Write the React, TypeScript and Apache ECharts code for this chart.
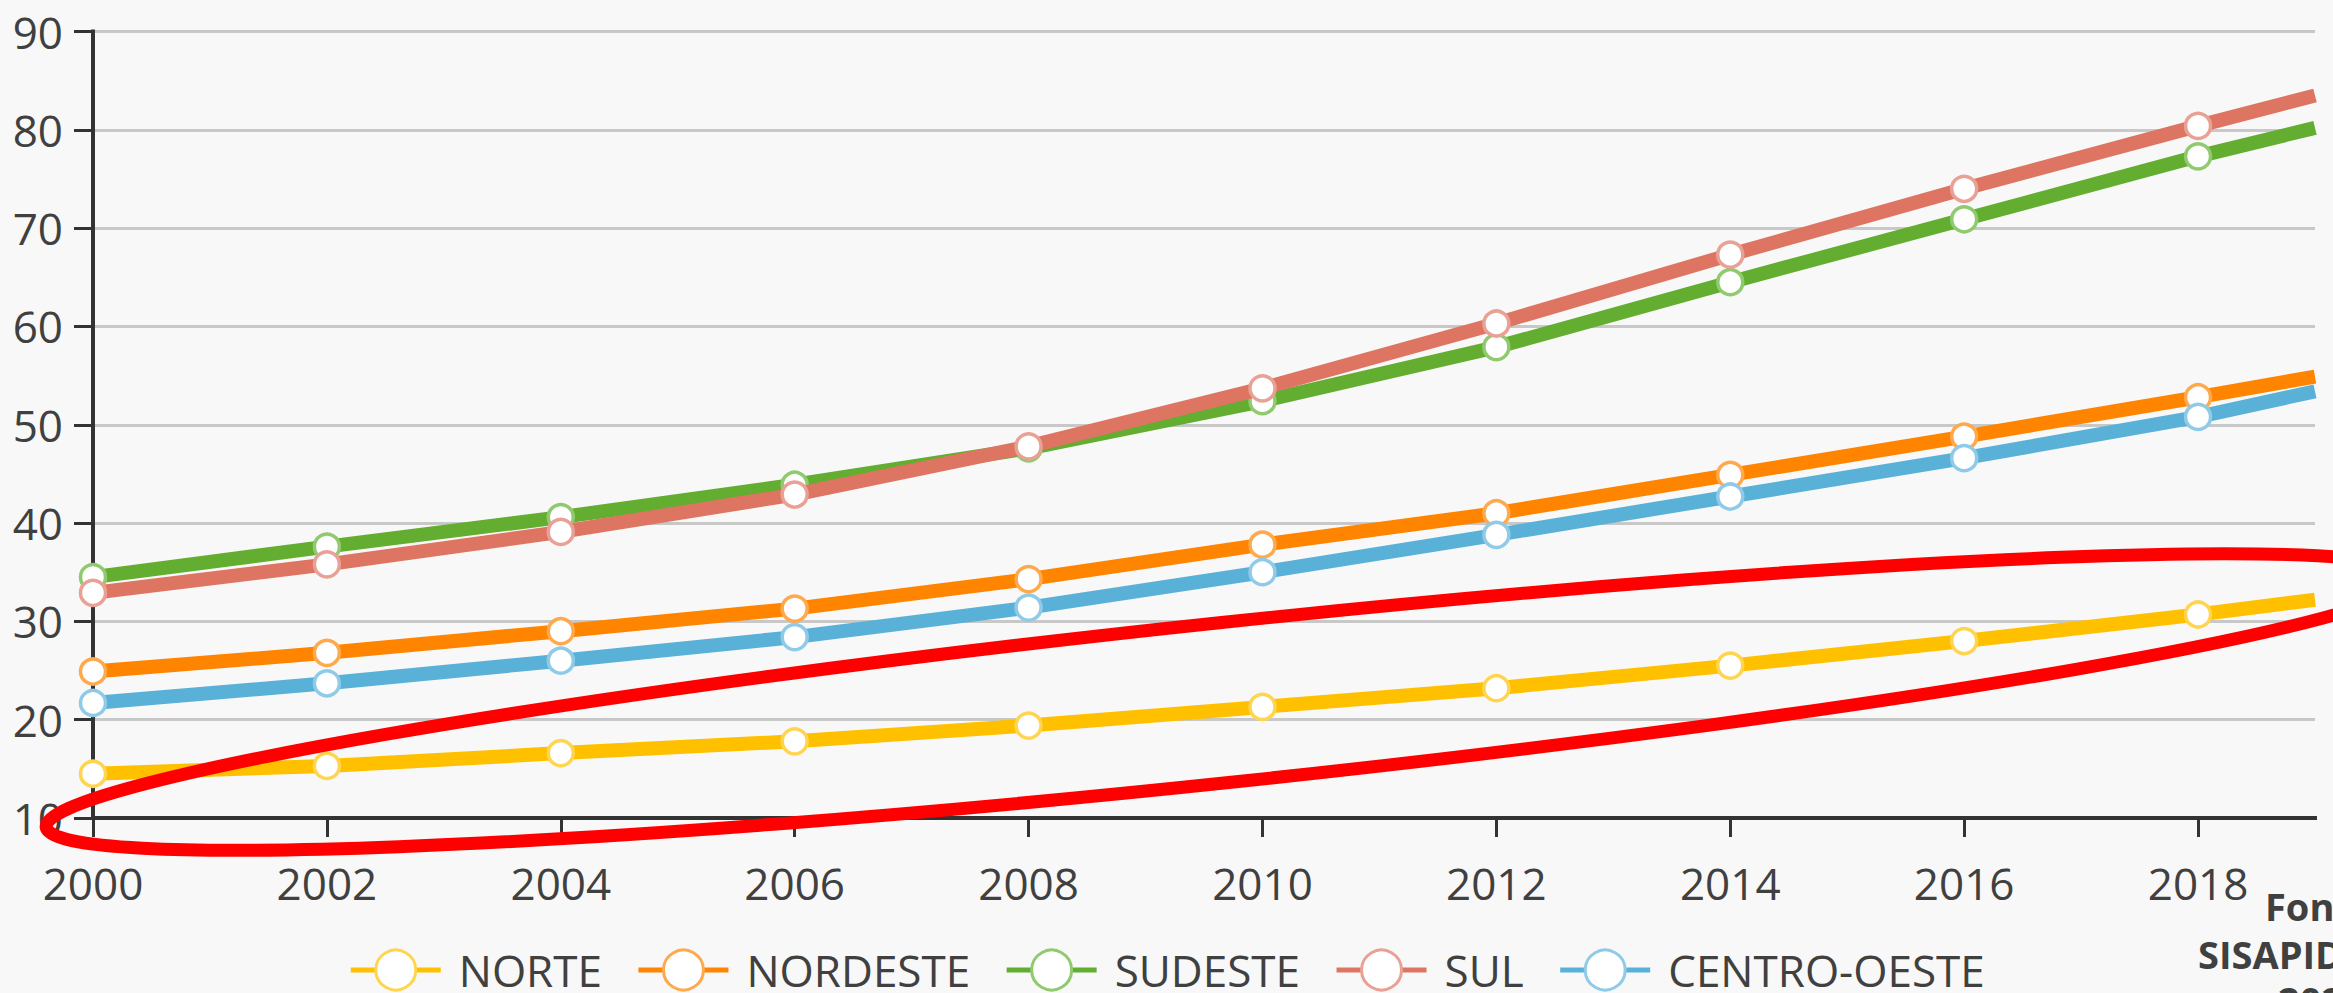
import React, { useEffect, useRef } from "react";
import * as echarts from "echarts";

const years = [2000, 2002, 2004, 2006, 2008, 2010, 2012, 2014, 2016, 2018, 2019];
const tickYears = [2000, 2002, 2004, 2006, 2008, 2010, 2012, 2014, 2016, 2018];
const seriesNames = ["NORTE", "NORDESTE", "SUDESTE", "SUL", "CENTRO-OESTE"];
const norte = [14.5, 15.3, 16.6, 17.8, 19.4, 21.3, 23.2, 25.5, 28.0, 30.7, 32.2];
const nordeste = [24.9, 26.8, 29.0, 31.3, 34.3, 37.8, 41.0, 44.9, 48.8, 52.8, 54.9];
const sudeste = [34.5, 37.6, 40.6, 43.9, 47.6, 52.4, 57.9, 64.5, 70.9, 77.3, 80.2];
const sul = [32.9, 35.8, 39.1, 42.9, 47.8, 53.7, 60.3, 67.3, 74.0, 80.4, 83.5];
const centroOeste = [21.7, 23.7, 26.0, 28.4, 31.4, 35.0, 38.8, 42.7, 46.6, 50.8, 53.4];
const sourceLines = ["Fonte:", "SISAPIDOSO", "2020"];

const lineColors = ["#FFC000", "#FF8400", "#63AD30", "#DE7562", "#5AB1D7"];
const borderColors = ["#FFD54F", "#FFA94D", "#8FCA6E", "#E9A195", "#8FCBE8"];

const FONT = "'Open Sans', 'Noto Sans', sans-serif";

export default function App() {
  const ref = useRef<HTMLDivElement>(null);
  useEffect(() => {
    if (!ref.current) return;
    const chart = echarts.init(ref.current, undefined, { renderer: "svg" });
    const allValues = [norte, nordeste, sudeste, sul, centroOeste];
    const series = seriesNames.map((name, i) => ({
      name,
      type: "line",
      z: 2 + i,
      data: years.map((y, j) => ({
        value: [y, allValues[i][j]],
        symbol: y % 2 === 0 ? "circle" : "none",
      })),
      symbol: "circle",
      symbolSize: 25,
      lineStyle: { color: lineColors[i], width: 14 },
      itemStyle: { color: "#ffffff", borderColor: borderColors[i], borderWidth: 3.5 },
      emphasis: { disabled: true },
    }));
    const option: any = {
      animation: false,
      backgroundColor: "#f8f8f8",
      grid: { left: 93, right: 18, top: 31.5, bottom: 175, outerBoundsMode: "none", containLabel: false },
      xAxis: {
        type: "value",
        min: 2000,
        max: 2019,
        interval: 2,
        axisLine: { show: true, lineStyle: { color: "#333333", width: 4, cap: "square" } },
        axisTick: { show: true, length: 19, lineStyle: { color: "#333333", width: 3 }, customValues: tickYears },
        axisLabel: {
          customValues: tickYears,
          formatter: (v: number) => String(v),
          fontSize: 44,
          fontFamily: FONT,
          color: "#404040",
          margin: 43,
        },
        splitLine: { show: false },
      },
      yAxis: {
        type: "value",
        min: 10,
        max: 90,
        interval: 10,
        axisLine: { show: true, lineStyle: { color: "#333333", width: 4, cap: "square" } },
        axisTick: { show: true, length: 19, lineStyle: { color: "#333333", width: 3 } },
        axisLabel: {
          fontSize: 44,
          fontFamily: FONT,
          color: "#404040",
          margin: 30,
          padding: [0, 0, 14, 0],
        },
        splitLine: { show: true, lineStyle: { color: "#c8c8c8", width: 3 } },
      },
      legend: {
        top: 943,
        left: "center",
        itemWidth: 90,
        itemHeight: 50,
        itemGap: 34,
        textStyle: { fontSize: 44, fontFamily: FONT, color: "#404040", padding: [0, 0, 0, 13] },
        data: seriesNames.map((name, i) => ({
          name,
          itemStyle: { color: "#ffffff", borderColor: borderColors[i], borderWidth: 3 },
          lineStyle: { color: lineColors[i], width: 5 },
        })),
      },
      graphic: [
        {
          type: "ellipse",
          z: 100,
          x: 1230,
          y: 702,
          rotation: 0.1051,
          shape: { cx: 0, cy: 0, rx: 1191, ry: 80 },
          style: { fill: "none", stroke: "#ff0000", lineWidth: 13 },
          silent: true,
        },
        {
          type: "text",
          z: 100,
          x: 2265,
          y: 905.5,
          style: { text: sourceLines[0], font: `bold 38px ${FONT}`, fill: "#404040", textVerticalAlign: "middle", textAlign: "left" },
        },
        {
          type: "text",
          z: 100,
          x: 2198,
          y: 953.5,
          style: { text: sourceLines[1], font: `bold 38px ${FONT}`, fill: "#404040", textVerticalAlign: "middle", textAlign: "left" },
        },
        {
          type: "text",
          z: 100,
          x: 2278,
          y: 1000,
          style: { text: sourceLines[2], font: `bold 38px ${FONT}`, fill: "#404040", textVerticalAlign: "middle", textAlign: "left" },
        },
      ],
      series,
    };
    chart.setOption(option);
    return () => chart.dispose();
  }, []);
  return (
    <div
      ref={ref}
      style={{ position: "fixed", left: 0, top: 0, width: 2333, height: 993, background: "#f8f8f8" }}
    />
  );
}
